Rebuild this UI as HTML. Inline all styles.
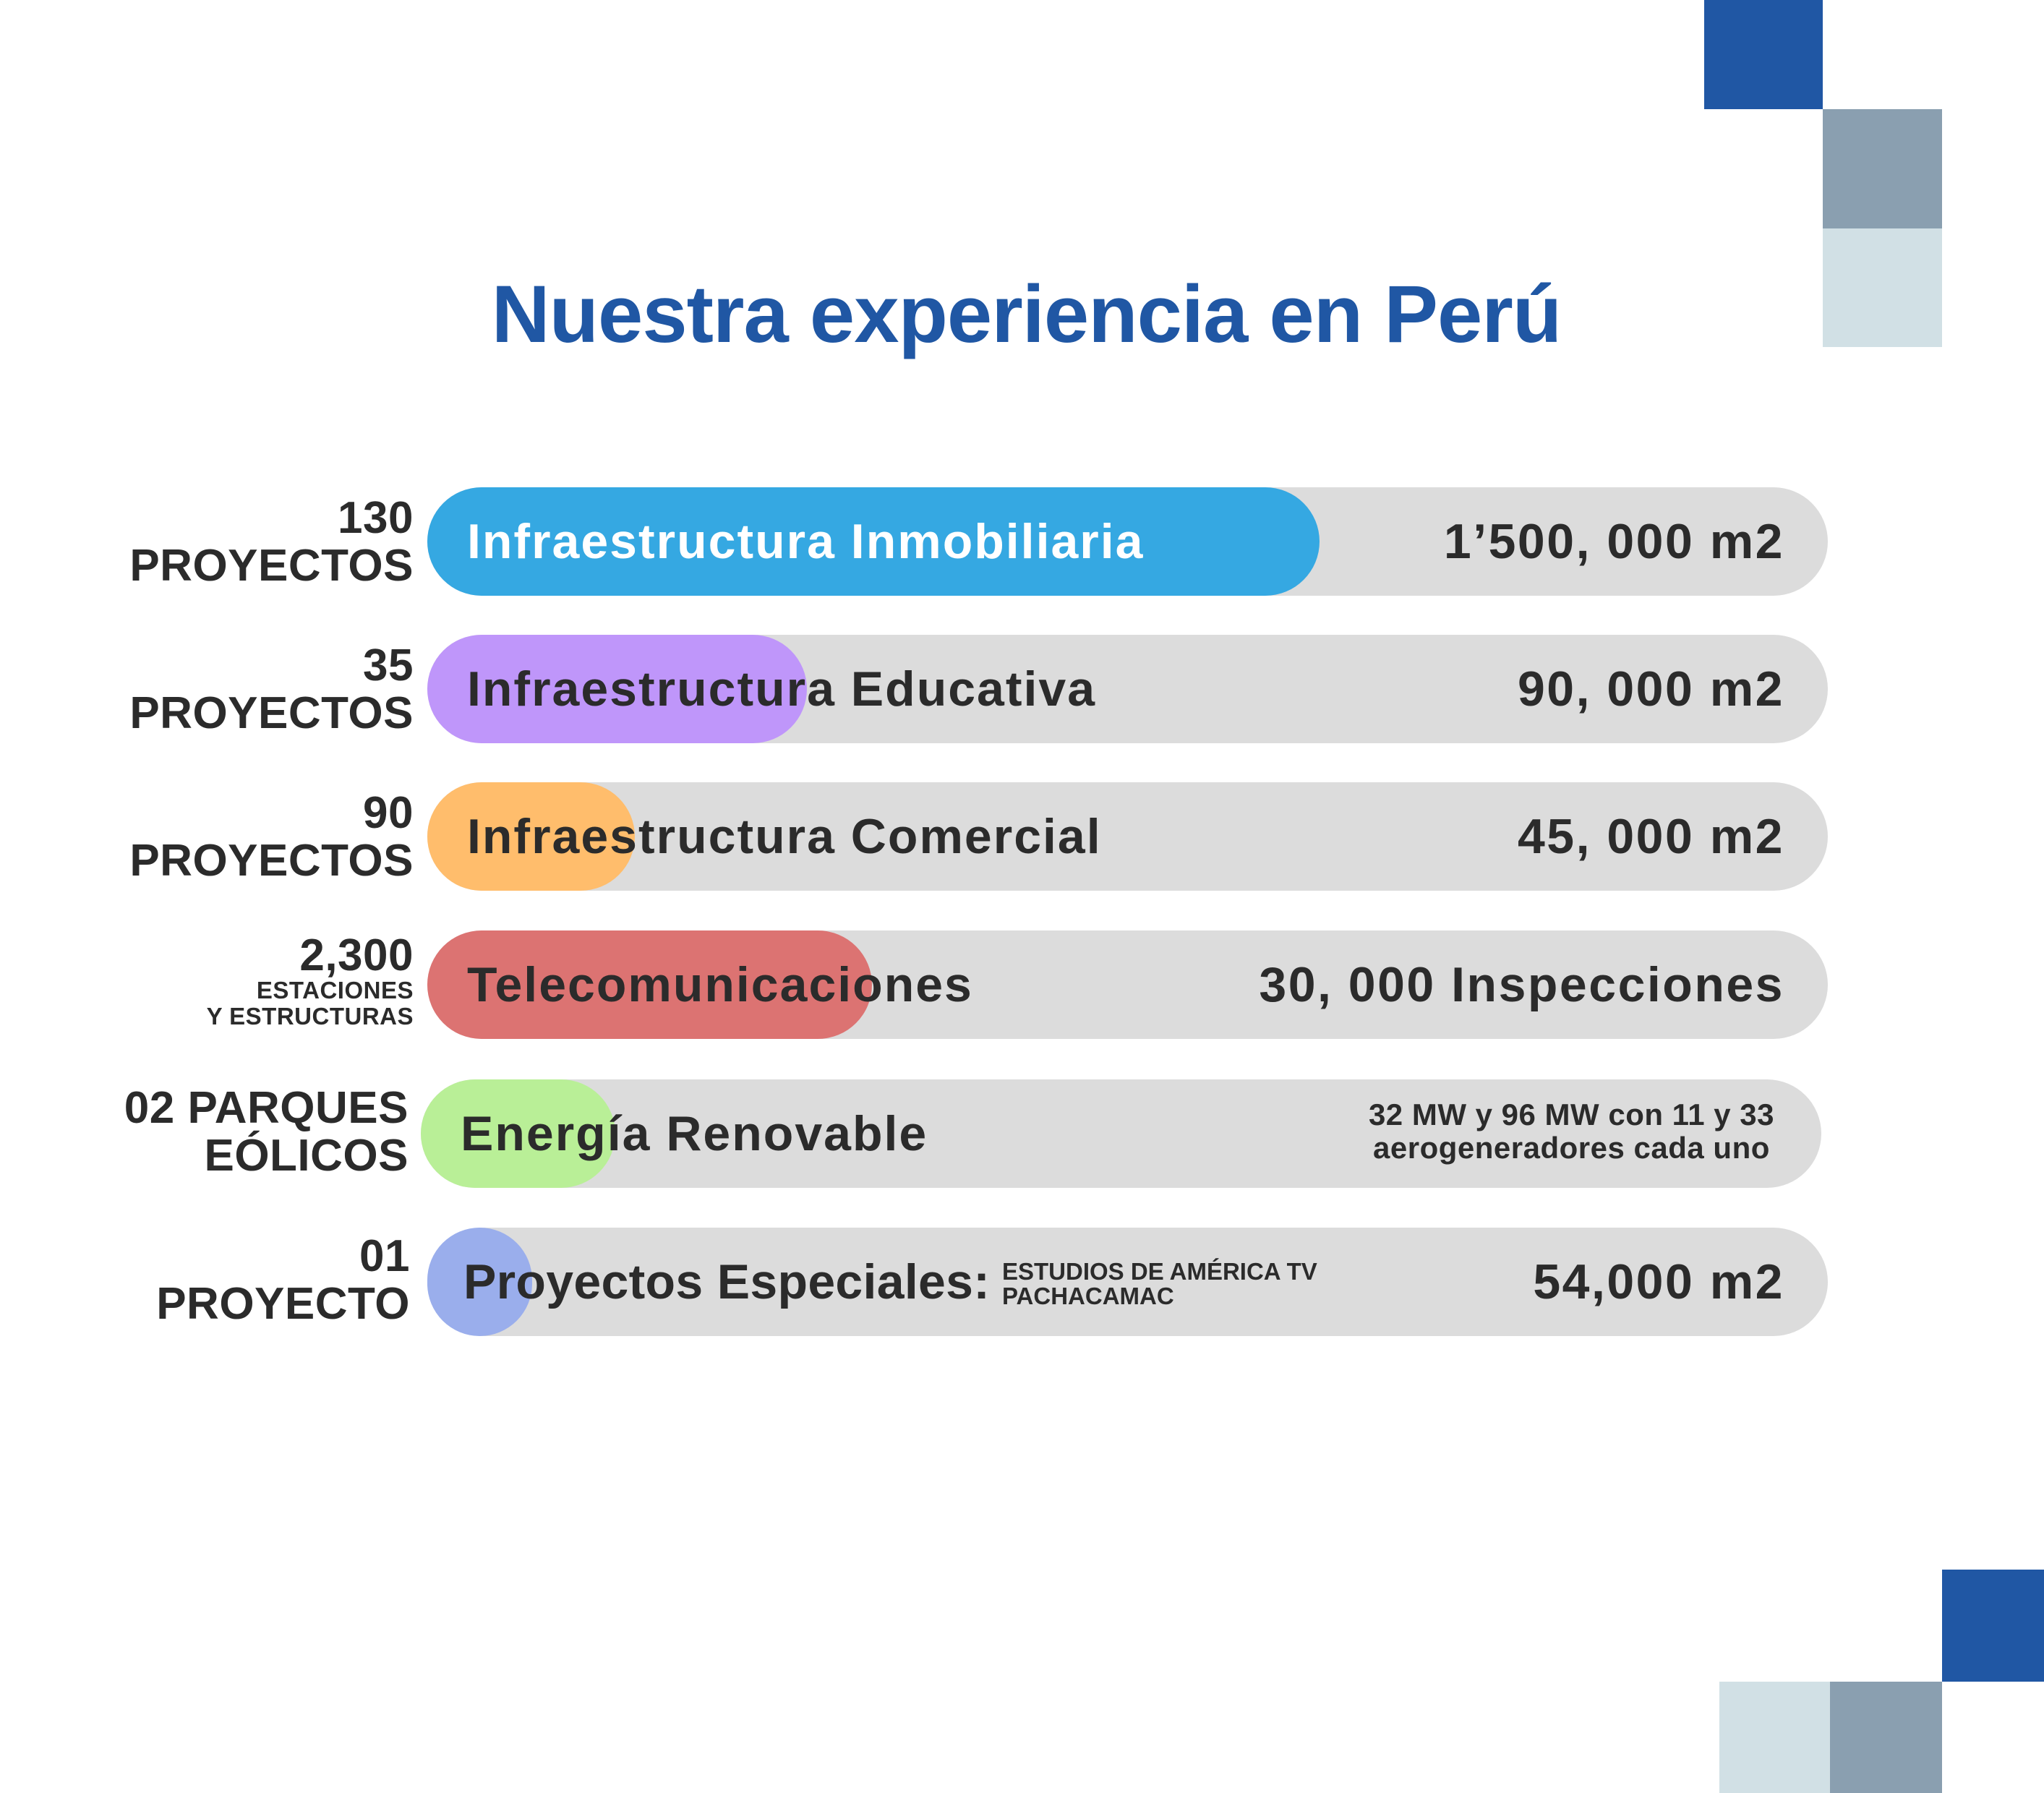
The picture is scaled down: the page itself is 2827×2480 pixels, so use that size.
<!DOCTYPE html>
<html><head><meta charset="utf-8"><style>
body{margin:0;width:2827px;height:2480px;background:#fff;position:relative;overflow:hidden;font-family:"Liberation Sans",sans-serif;color:#2b2b2b}
.sq{position:absolute}
.title{position:absolute;left:0;width:2827px;top:370px;text-align:center;font-size:112px;font-weight:bold;color:#2057a4;letter-spacing:-1px;margin-left:6px}
.bar{position:absolute;height:150px;border-radius:75px;background:#dcdcdc;width:1937px}
.fill{position:absolute;left:0;top:0;height:150px;border-radius:75px}
.lbl{position:absolute;left:55px;top:0;height:150px;line-height:150px;font-size:68px;font-weight:bold;white-space:nowrap;letter-spacing:2px}
.val{position:absolute;right:60px;top:0;height:150px;line-height:150px;font-size:68px;font-weight:bold;white-space:nowrap;text-align:right;letter-spacing:2.5px}
.left{position:absolute;right:2255px;text-align:right;font-weight:bold;font-size:62px;line-height:66px;white-space:nowrap;letter-spacing:0.5px}
</style></head><body>
<div class="sq" style="left:2357px;top:0;width:164px;height:151px;background:#2057a4"></div>
<div class="sq" style="left:2521px;top:151px;width:165px;height:165px;background:#8a9fb0"></div>
<div class="sq" style="left:2521px;top:316px;width:165px;height:164px;background:#d1e0e5"></div>
<div class="sq" style="left:2686px;top:2171px;width:141px;height:155px;background:#2057a4"></div>
<div class="sq" style="left:2378px;top:2326px;width:153px;height:154px;background:#d1e0e5"></div>
<div class="sq" style="left:2531px;top:2326px;width:155px;height:154px;background:#8a9fb0"></div>

<div class="title">Nuestra experiencia en Perú</div>

<div class="left" style="top:684px">130<br>PROYECTOS</div>
<div class="bar" style="left:591px;top:674px"><div class="fill" style="width:1234px;background:#35a8e2"></div><div class="lbl" style="color:#fff">Infraestructura Inmobiliaria</div><div class="val">1’500, 000 m2</div></div>

<div class="left" style="top:888px">35<br>PROYECTOS</div>
<div class="bar" style="left:591px;top:878px"><div class="fill" style="width:525px;background:#bf96fa"></div><div class="lbl">Infraestructura Educativa</div><div class="val">90, 000 m2</div></div>

<div class="left" style="top:1092px">90<br>PROYECTOS</div>
<div class="bar" style="left:591px;top:1082px"><div class="fill" style="width:287px;background:#ffbd6c"></div><div class="lbl">Infraestructura Comercial</div><div class="val">45, 000 m2</div></div>

<div class="left" style="top:1292px;line-height:60px">2,300<br><span style="font-size:33px;line-height:36px;display:block">ESTACIONES<br>Y ESTRUCTURAS</span></div>
<div class="bar" style="left:591px;top:1287px"><div class="fill" style="width:615px;background:#dc7372"></div><div class="lbl">Telecomunicaciones</div><div class="val">30, 000 Inspecciones</div></div>

<div class="left" style="top:1500px;right:2262px">02 PARQUES<br>EÓLICOS</div>
<div class="bar" style="left:582px;top:1493px"><div class="fill" style="width:269px;background:#b9ef97"></div><div class="lbl">Energía Renovable</div><div class="val" style="font-size:42px;line-height:46px;top:26px;height:auto;text-align:center;right:65px;letter-spacing:0.5px">32 MW y 96 MW con 11 y 33<br>aerogeneradores cada uno</div></div>

<div class="left" style="top:1705px;right:2260px">01<br>PROYECTO</div>
<div class="bar" style="left:591px;top:1698px"><div class="fill" style="width:145px;background:#9aaeec"></div><div class="lbl" style="left:50px;letter-spacing:0.3px">Proyectos Especiales:</div><div style="position:absolute;left:795px;top:44px;font-size:33px;font-weight:bold;line-height:34px">ESTUDIOS DE AMÉRICA TV<br>PACHACAMAC</div><div class="val">54,000 m2</div></div>
</body></html>
